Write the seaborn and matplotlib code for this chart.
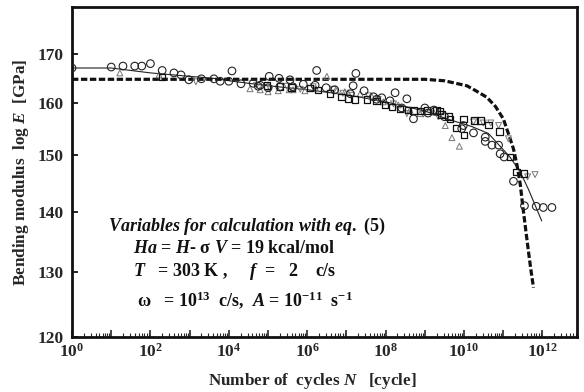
import numpy as np
import pandas as pd
import matplotlib
matplotlib.use("Agg")
import matplotlib.pyplot as plt
import matplotlib.ticker as mticker
import seaborn as sns

# ---------------- data (log10 of cycles, modulus in GPa) ----------------
circ_logN = [0.0, 1.0, 1.3, 1.6, 1.78, 2.0, 2.3, 2.6, 2.78, 2.98, 3.3, 3.62, 3.78, 4.0, 4.08,
             4.31, 4.62, 4.75, 4.8, 5.0, 5.03, 5.28, 5.3, 5.56, 5.63, 5.9, 6.2, 6.24, 6.48,
             6.7, 7.1, 7.17, 7.24, 7.45, 7.69, 7.77, 7.9, 8.11, 8.24, 8.41, 8.54, 8.71, 9.0,
             9.08, 9.23, 9.26, 9.5, 9.94, 9.98, 10.24, 10.54, 10.54, 10.71, 10.88, 10.92,
             11.02, 11.26, 11.54, 11.84, 12.02, 12.24]
circ_E = [167.0, 167.2, 167.4, 167.4, 167.4, 167.9, 166.5, 166.0, 165.6, 164.6, 164.8, 164.8,
          164.3, 164.3, 166.4, 163.8, 163.9, 163.3, 163.5, 163.0, 165.3, 164.9, 163.2, 164.6,
          163.2, 163.7, 163.5, 166.5, 163.0, 162.6, 161.8, 163.4, 165.9, 162.4, 161.2, 160.7,
          161.0, 160.4, 162.0, 159.0, 160.8, 156.9, 159.0, 158.0, 158.6, 158.4, 157.3, 155.0,
          155.6, 154.2, 153.4, 152.6, 151.9, 151.9, 150.3, 149.7, 145.3, 141.0, 140.9, 140.7,
          140.7]

tri_logN = [1.22, 2.22, 4.54, 4.8, 5.0, 5.26, 5.54, 5.64, 5.94, 6.22, 6.5, 6.75, 6.96, 7.04,
            7.35, 7.65, 7.94, 8.32, 8.62, 8.88, 9.22, 9.52, 9.69, 9.88]
tri_E = [166.0, 165.6, 162.8, 162.6, 162.2, 162.4, 162.6, 162.6, 162.4, 162.8, 165.3, 162.4,
         162.2, 162.0, 161.8, 161.2, 160.2, 159.6, 158.6, 157.9, 158.2, 155.6, 153.3, 151.7]

sq_logN = [2.3, 4.97, 5.3, 5.6, 6.07, 6.28, 6.58, 6.88, 7.04, 7.22, 7.52, 7.77, 7.98, 8.16,
           8.37, 8.57, 8.71, 8.88, 9.06, 9.3, 9.37, 9.43, 9.6, 9.64, 9.81, 9.98, 10.0, 10.26,
           10.42, 10.62, 10.9, 11.17, 11.34, 11.53]
sq_E = [165.2, 163.5, 163.2, 163.0, 162.9, 162.5, 161.9, 161.2, 160.9, 160.7, 160.7, 160.4,
        159.6, 159.2, 158.8, 158.6, 158.5, 158.4, 158.5, 158.5, 158.4, 157.7, 157.3, 156.9,
        155.1, 156.9, 153.8, 156.6, 156.6, 155.7, 154.5, 149.7, 147.0, 146.7]

itri_logN = [3.16, 4.71, 5.05, 5.48, 5.82, 6.15, 6.66, 6.91, 7.13, 7.56, 7.81, 8.2, 8.54, 8.96,
             9.34, 10.24, 10.49, 10.68, 10.88, 11.13, 11.62, 11.81]
itri_E = [164.2, 163.5, 162.8, 163.3, 162.7, 163.2, 162.7, 161.9, 161.5, 161.4, 160.7, 159.8,
          157.9, 157.8, 157.3, 156.3, 156.1, 156.1, 155.6, 153.1, 146.1, 146.5]

fit_logN = [0.0, 1.0, 1.3, 2.0, 3.0, 3.6, 4.1, 5.0, 6.0, 7.0, 8.0, 9.0, 9.6, 10.2, 10.62,
            11.17, 11.43, 11.64, 11.98]
fit_E = [167.0, 167.0, 166.7, 166.0, 165.3, 164.9, 164.3, 163.4, 162.6, 161.6, 160.2, 158.4,
         156.8, 155.4, 154.1, 149.7, 147.0, 143.9, 138.4]

calc_logN = [0.0, 9.0, 9.5, 10.07, 10.3, 10.58, 10.8, 11.0, 11.12, 11.26, 11.35, 11.43, 11.5,
             11.57, 11.64, 11.7, 11.77]
calc_E = [164.7, 164.7, 164.4, 163.4, 162.4, 161.1, 159.3, 156.9, 154.3, 151.2, 148.2, 144.9,
          140.8, 137.0, 133.4, 130.5, 127.5]

x_ticks_exp = [0, 2, 4, 6, 8, 10, 12]
y_ticks = [120, 130, 140, 150, 160, 170]


def frame(logN, E):
    return pd.DataFrame({"N": np.power(10.0, logN), "E": E})


# ---------------- style ----------------
sns.set_style("ticks")
plt.rcParams["font.family"] = ["Liberation Serif", "DejaVu Serif"]
plt.rcParams["font.weight"] = "bold"
plt.rcParams["mathtext.fontset"] = "custom"
plt.rcParams["mathtext.rm"] = "Liberation Serif:bold"
plt.rcParams["mathtext.it"] = "Liberation Serif:italic:bold"
plt.rcParams["mathtext.bf"] = "Liberation Serif:bold"

fig = plt.figure(figsize=(5.84, 3.92), dpi=100)
ax = fig.add_axes([72 / 584, 1 - 337 / 392, 505 / 584, 330 / 392])

ax.set_xscale("log")
ax.set_yscale("log")

# lines
sns.lineplot(data=frame(calc_logN, calc_E), x="N", y="E", ax=ax, color="#111111",
             lw=2.3, linestyle=(0, (2.0, 0.8)), sort=False, zorder=3)
sns.lineplot(data=frame(fit_logN, fit_E), x="N", y="E", ax=ax, color="#222222",
             lw=0.8, sort=False, zorder=2)

# markers
sns.scatterplot(data=frame(tri_logN, tri_E), x="N", y="E", ax=ax, marker="^", s=18,
                facecolor="none", edgecolor="#777777", linewidth=0.7, zorder=4)
sns.scatterplot(data=frame(itri_logN, itri_E), x="N", y="E", ax=ax, marker="v", s=18,
                facecolor="none", edgecolor="#777777", linewidth=0.7, zorder=4)
sns.scatterplot(data=frame(sq_logN, sq_E), x="N", y="E", ax=ax, marker="s", s=22,
                facecolor="none", edgecolor="#111111", linewidth=0.9, zorder=5)
sns.scatterplot(data=frame(circ_logN, circ_E), x="N", y="E", ax=ax, marker="o", s=30,
                facecolor="none", edgecolor="#222222", linewidth=0.8, zorder=5)

# axes
ax.set_xlim(1, 10 ** 12.88)
ax.set_ylim(120, 180)
ax.xaxis.set_major_locator(mticker.LogLocator(base=10, numticks=30))
ax.xaxis.set_minor_locator(mticker.LogLocator(base=10, subs=np.arange(2, 10), numticks=30))
ax.xaxis.set_major_formatter(mticker.FuncFormatter(
    lambda v, p: (r"$10^{%d}$" % int(round(np.log10(v))))
    if int(round(np.log10(v))) in x_ticks_exp else ""))
ax.xaxis.set_minor_formatter(mticker.NullFormatter())
ax.set_yticks(y_ticks)
ax.set_yticklabels([str(v) for v in y_ticks])
ax.yaxis.set_minor_locator(mticker.NullLocator())

ax.tick_params(axis="x", which="major", direction="in", length=5, width=1.2,
               labelsize=12.5, pad=4, top=False)
ax.tick_params(axis="x", which="minor", direction="in", length=3, width=0.8, top=False)
ax.tick_params(axis="y", which="major", direction="in", length=4, width=1.4,
               labelsize=12.5, pad=6, right=False)

for s in ax.spines.values():
    s.set_linewidth(2.0)
    s.set_color("#111111")

ax.set_xlabel(r"Number of  cycles $N$   [cycle]", fontsize=12.3, fontweight="bold")
ax.set_ylabel(r"Bending modulus  log $E$  [GPa]", fontsize=12.3, fontweight="bold")
ax.xaxis.set_label_coords(0.475, -0.103)
ax.yaxis.set_label_coords(-0.082, 0.5)

# annotation
tk = dict(transform=ax.transAxes, fontsize=13, fontweight="bold", ha="left", va="center",
          color="#111111")
ax.text(0.071, 0.336, r"$Variables\ for\ calculation\ with\ eq.$ (5)", **tk)
ax.text(0.121, 0.267, r"$Ha$ = $H$- σ $V$ = 19 kcal/mol", **tk)
ax.text(0.121, 0.198, r"$T$   = 303 K ,     $f$  =   2    c/s", **tk)
ax.text(0.129, 0.112, r"ω   = 10$^{13}$  c/s,  $A$ = 10$^{-11}$  s$^{-1}$", **tk)

fig.savefig("out.png", dpi=100)
